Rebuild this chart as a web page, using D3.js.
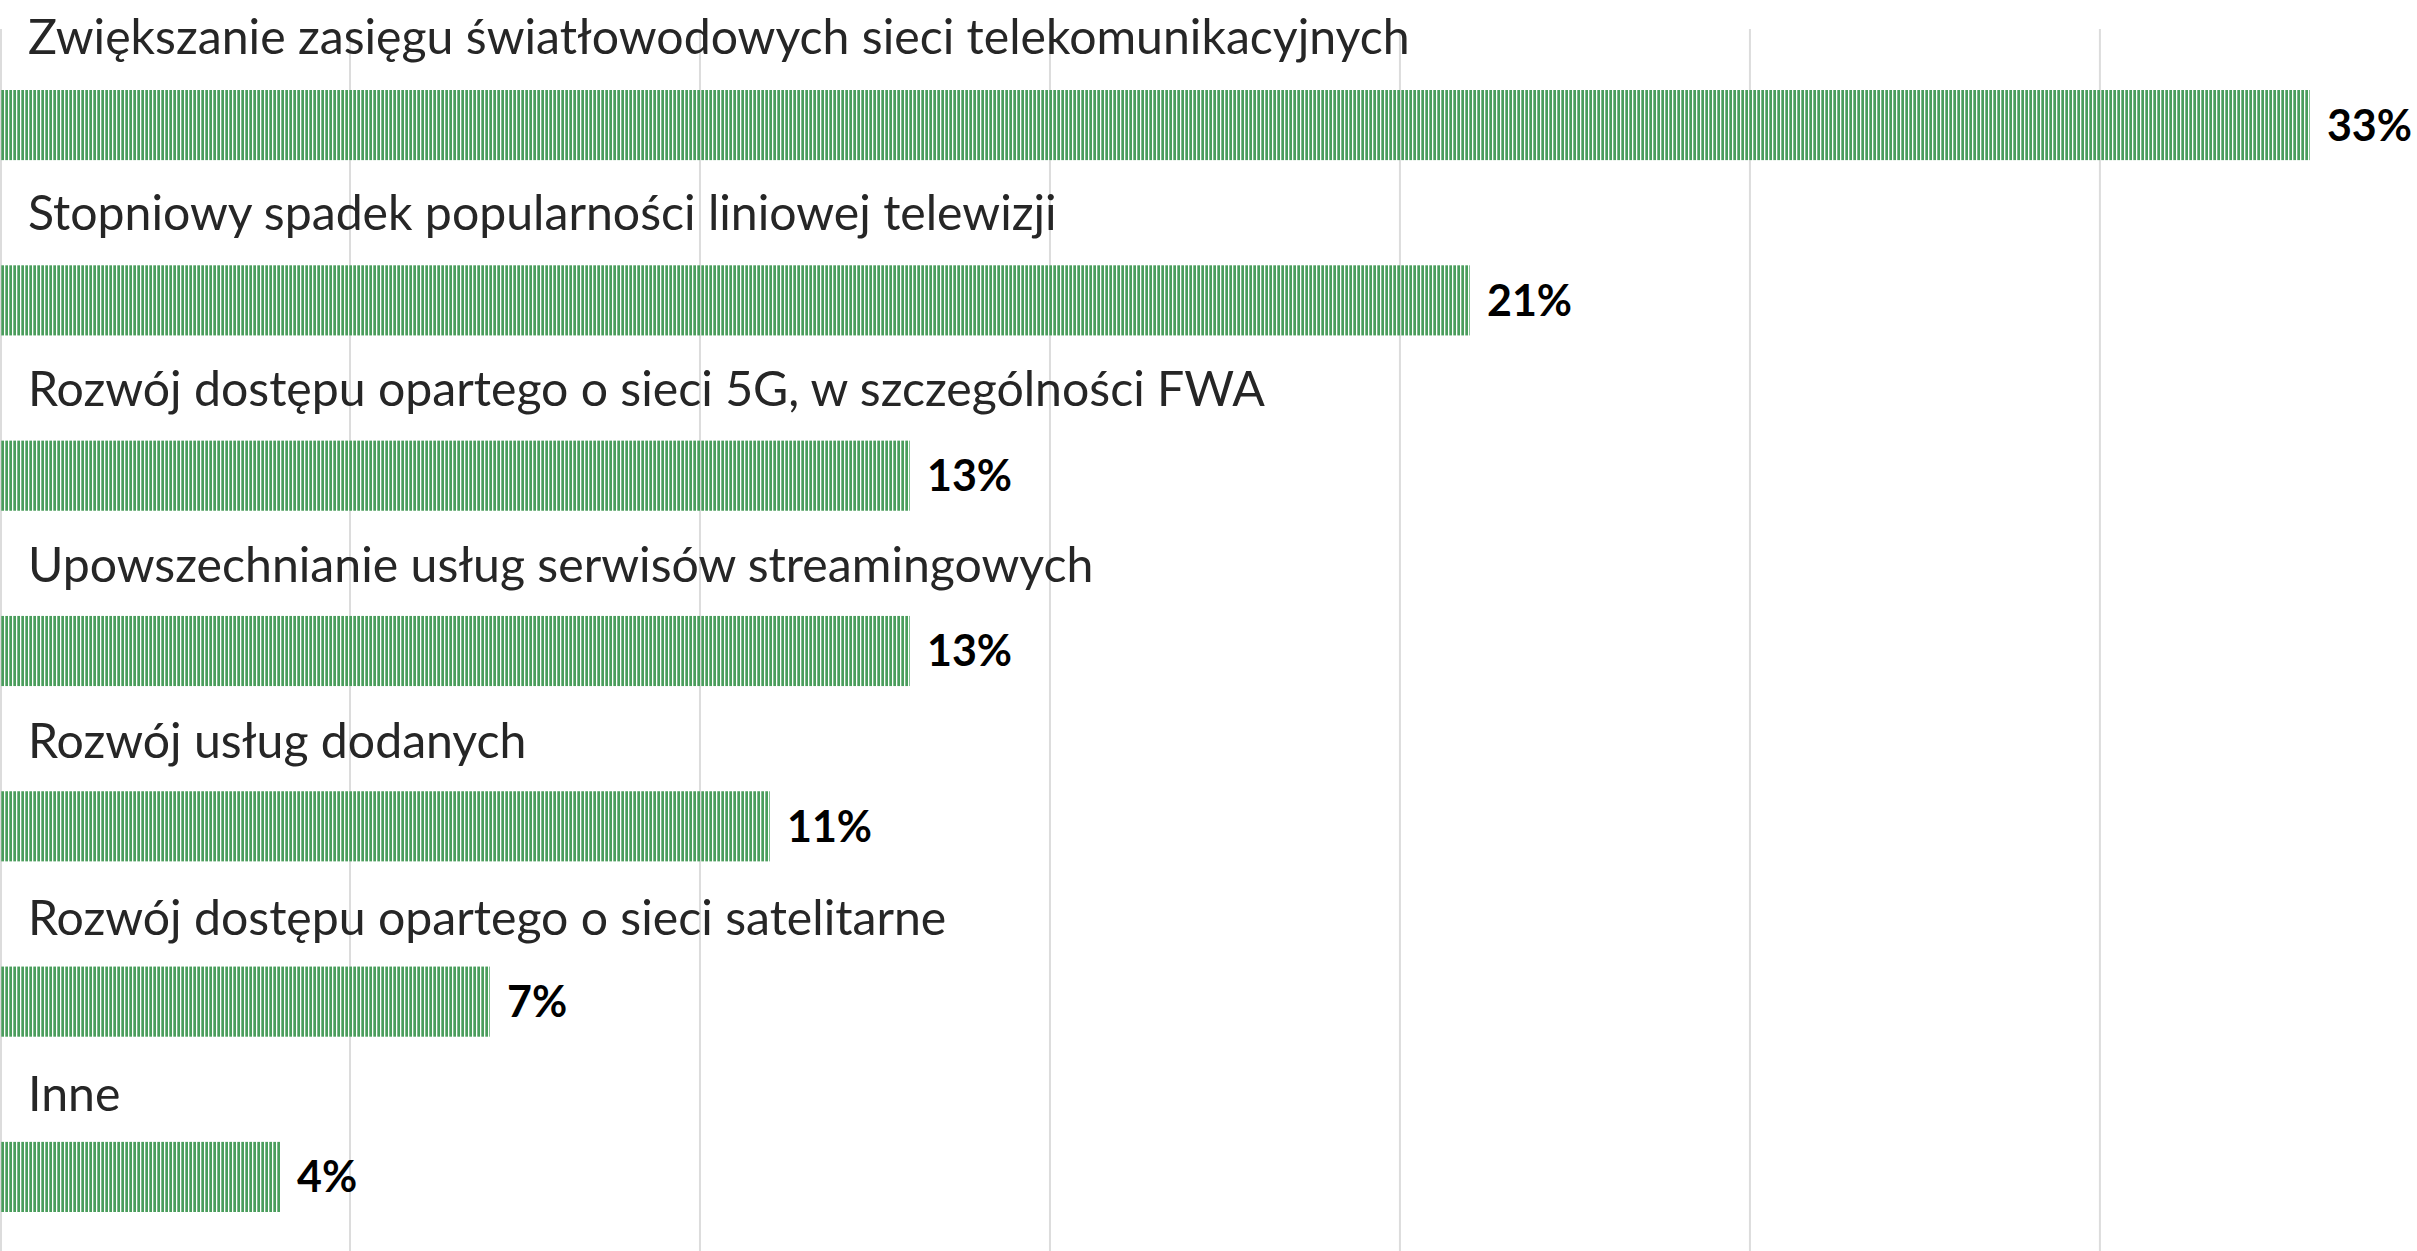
<!DOCTYPE html>
<html>
<head>
<meta charset="utf-8">
<script src="https://cdn.jsdelivr.net/npm/d3@7"></script>
<style>
  html, body { margin: 0; padding: 0; background: #fff; }
  svg { display: block; }
</style>
</head>
<body>
<div id="chart"></div>
<script>
const width = 2417;
const height = 1251;

const categories = [
    "Zwiększanie zasięgu światłowodowych sieci telekomunikacyjnych",
    "Stopniowy spadek popularności liniowej telewizji",
    "Rozwój dostępu opartego o sieci 5G, w szczególności FWA",
    "Upowszechnianie usług serwisów streamingowych",
    "Rozwój usług dodanych",
    "Rozwój dostępu opartego o sieci satelitarne",
    "Inne"
];
const values = [33, 21, 13, 13, 11, 7, 4];
const gridTicks = [0, 5, 10, 15, 20, 25, 30];

const green = "#4a9d5c";

const x = d3.scaleLinear()
    .domain([0, 34.53])
    .range([0, width]);

const y = d3.scaleBand()
    .domain(categories)
    .range([90, 1212])
    .paddingInner(0.6)
    .paddingOuter(0);

const svg = d3.select("#chart")
    .append("svg")
    .attr("width", width)
    .attr("height", height);

// striped fill for the bars
const pattern = svg.append("defs")
    .append("pattern")
    .attr("id", "stripes")
    .attr("patternUnits", "userSpaceOnUse")
    .attr("width", 4)
    .attr("height", 10);

pattern.append("rect")
    .attr("x", 1.3)
    .attr("width", 2.7)
    .attr("height", 10)
    .attr("fill", green);

// gridlines
svg.append("g")
    .selectAll("line")
    .data(gridTicks)
    .join("line")
    .attr("x1", d => x(d) + (d === 0 ? 1 : 0))
    .attr("x2", d => x(d) + (d === 0 ? 1 : 0))
    .attr("y1", 29)
    .attr("y2", height)
    .attr("stroke", "#dcdcdc")
    .attr("stroke-width", 2);

// category labels
svg.append("g")
    .selectAll("text")
    .data(categories)
    .join("text")
    .attr("x", 28)
    .attr("y", (d, i) => y(d) - 36 + i * 0.8)
    .attr("font-family", "Lato")
    .attr("font-size", 48.2)
    .attr("fill", "#262626")
    .text(d => d);

// bars
svg.append("g")
    .selectAll("rect")
    .data(values)
    .join("rect")
    .attr("x", x(0) + 1)
    .attr("y", (d, i) => y(categories[i]))
    .attr("width", d => x(d) - 1)
    .attr("height", y.bandwidth())
    .attr("fill", "url(#stripes)");

// value labels
svg.append("g")
    .selectAll("text")
    .data(values)
    .join("text")
    .attr("x", d => x(d) + 17)
    .attr("y", (d, i) => y(categories[i]) + y.bandwidth() / 2)
    .attr("dy", "0.36em")
    .attr("font-family", "Lato")
    .attr("font-weight", "bold")
    .attr("font-size", 43)
    .attr("fill", "#000")
    .text(d => d + "%");
</script>
</body>
</html>
